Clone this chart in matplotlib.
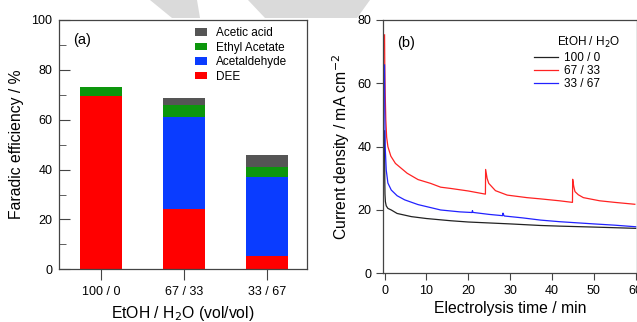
import matplotlib.pyplot as plt
from matplotlib.patches import Polygon

plt.rcParams['font.family'] = ['Liberation Sans', 'DejaVu Sans']

# ---- panel (a) data: faradaic efficiency (%) ----
ratios = ['100 / 0', '67 / 33', '33 / 67']
dee = [69.5, 24.2, 5.5]
acetaldehyde = [0.0, 36.8, 31.4]
ethyl_acetate = [3.5, 4.9, 4.3]
acetic_acid = [0.0, 2.9, 4.5]

# ---- panel (b) data: current density vs time ----
t_100 = [0, 0.05, 0.1, 0.2, 0.4, 0.8, 1.6, 3, 6.4, 10, 15.8, 20, 25, 30, 37.3, 41.8, 50, 55, 60]
j_100 = [45, 30, 25, 22.6, 21.3, 20.5, 20.0, 18.9, 17.9, 17.3, 16.6, 16.2, 15.9, 15.6, 15.1, 14.9, 14.6, 14.4, 14.2]

t_67 = [0, 0.05, 0.15, 0.3, 0.5, 0.8, 1.5, 2.6, 5.4, 8, 11, 13.4, 15.8, 20, 24.1, 24.15, 24.5, 24.9, 26.5,
        29.3, 34, 37.3, 41.8, 44.9, 44.95, 45.2, 45.5, 46.3, 47.5, 51.4, 55, 59.8]
j_67 = [75.3, 66, 57, 48.4, 43, 40.0, 37.0, 34.7, 31.6, 29.6, 28.4, 27.2, 26.8, 26.0, 25.0, 32.8, 30.0, 28.4, 26.1,
        24.7, 23.9, 23.5, 22.9, 22.4, 29.7, 27.5, 25.8, 24.8, 23.9, 22.9, 22.4, 21.8]

t_33 = [0, 0.05, 0.15, 0.4, 0.8, 1.6, 3, 4.8, 8, 13.4, 18, 20.9, 21.0, 21.1, 21.3, 25, 28.2, 28.3, 28.4, 28.6,
        33, 37.3, 41.8, 50, 55, 60]
j_33 = [65.8, 52, 40, 32.6, 28.5, 26.3, 24.5, 23.2, 21.7, 20.0, 19.4, 19.2, 19.8, 19.3, 19.2, 18.6, 18.2, 19.0, 18.6, 18.1,
        17.5, 16.8, 16.3, 15.6, 15.2, 14.7]

fig = plt.figure(figsize=(6.37, 3.22), dpi=100)
W, H = 637.0, 322.0

# faint grey watermark shapes at the top of the image
for pts in ([(150, 0), (197, 0), (200, 18), (172, 18)],
            [(248, 0), (370, 0), (357, 18), (265, 18)]):
    fig.patches.append(Polygon([(x / W, 1 - y / H) for x, y in pts], closed=True,
                               transform=fig.transFigure, facecolor='#dadada',
                               edgecolor='none', zorder=0))

# ---------- (a) ----------
ax1 = fig.add_axes([59.3 / W, 1 - 269.3 / H, (307 - 59.3) / W, 249.3 / H])
x = list(range(len(ratios)))
w = 0.5
b1 = dee
b2 = [a + b for a, b in zip(b1, acetaldehyde)]
b3 = [a + b for a, b in zip(b2, ethyl_acetate)]
h_dee = ax1.bar(x, dee, w, color='#ff0000', label='DEE')
h_ald = ax1.bar(x, acetaldehyde, w, bottom=b1, color='#0a3cff', label='Acetaldehyde')
h_ea = ax1.bar(x, ethyl_acetate, w, bottom=b2, color='#0c960c', label='Ethyl Acetate')
h_aa = ax1.bar(x, acetic_acid, w, bottom=b3, color='#555555', label='Acetic acid')

ax1.set_xlim(-0.5, 2.48)
ax1.set_ylim(0, 100)
ax1.set_xticks(x)
ax1.set_xticklabels(ratios, fontsize=9)
ax1.set_yticks(range(0, 101, 20))
ax1.set_yticks(range(10, 100, 20), minor=True)
ax1.tick_params(axis='y', which='major', direction='in', length=8, labelsize=9, pad=5, color='#444444')
ax1.tick_params(axis='y', which='minor', direction='in', length=5, color='#444444')
ax1.tick_params(axis='x', direction='out', length=8, pad=4, color='#444444')
ax1.set_ylabel('Faradic efficiency / %', fontsize=11.3, labelpad=5)
ax1.set_xlabel('EtOH / H$_2$O (vol/vol)', fontsize=11.3, labelpad=4)
for s in ax1.spines.values():
    s.set_color('#444444')
    s.set_linewidth(0.9)
ax1.text(73 / W, 1 - 40 / H, '(a)', transform=fig.transFigure, fontsize=10.5, va='center')
ax1.legend(handles=[h_aa, h_ea, h_ald, h_dee], loc='upper left', frameon=False, fontsize=8.5,
           handlelength=1.0, handleheight=0.6, handletextpad=0.75, labelspacing=0.22,
           borderaxespad=0, borderpad=0,
           bbox_to_anchor=(195 / W, 1 - 27 / H), bbox_transform=fig.transFigure)

# ---------- (b) ----------
ax2 = fig.add_axes([383.3 / W, 1 - 273.3 / H, (636.5 - 383.3) / W, 253.3 / H])
ax2.plot(t_100, j_100, color='#222222', lw=0.9, label='100 / 0')
ax2.plot(t_67, j_67, color='#ff2222', lw=0.9, label='67 / 33')
ax2.plot(t_33, j_33, color='#2222ff', lw=0.9, label='33 / 67')
ax2.set_xlim(-0.3, 60.2)
ax2.set_ylim(0, 80)
ax2.set_xticks(range(0, 61, 10))
ax2.set_yticks(range(0, 81, 20))
ax2.tick_params(direction='out', length=5, labelsize=9, color='#444444')
ax2.set_xlabel('Electrolysis time / min', fontsize=11.3, labelpad=3)
ax2.set_ylabel('Current density / mA cm$^{-2}$', fontsize=11.3, labelpad=4)
for s in ax2.spines.values():
    s.set_color('#444444')
    s.set_linewidth(0.9)
ax2.text(397 / W, 1 - 43 / H, '(b)', transform=fig.transFigure, fontsize=10.5, va='center')
fig.text(557 / W, 1 - 42 / H, 'EtOH / H$_2$O', fontsize=8.5, ha='left', va='center')
ax2.legend(loc='upper left', frameon=False, fontsize=8.5, handlelength=2.0, handletextpad=0.5,
           labelspacing=0.1, borderaxespad=0, borderpad=0,
           bbox_to_anchor=(534 / W, 1 - 52 / H), bbox_transform=fig.transFigure)

fig.savefig('out.png', dpi=100)
